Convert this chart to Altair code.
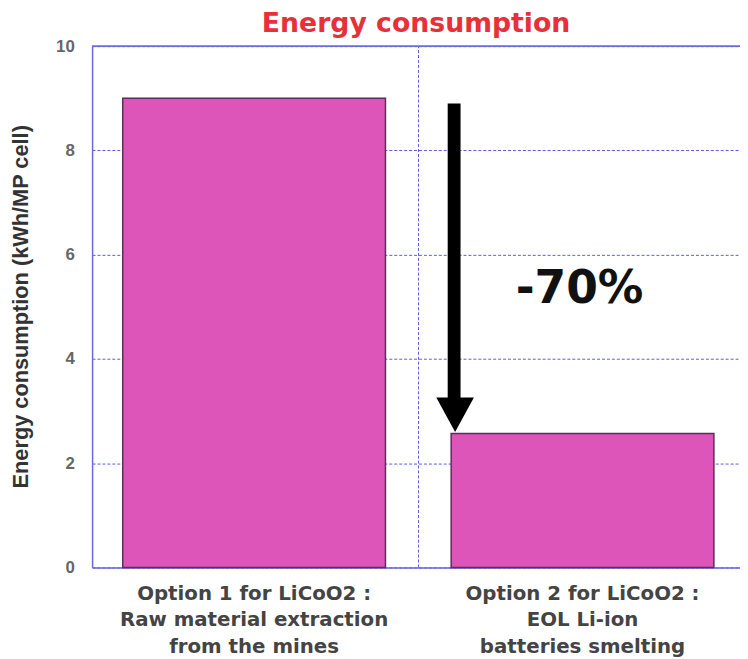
import altair as alt
import pandas as pd

categories = [
    "Option 1 for LiCoO2 :|Raw material extraction|from the mines",
    "Option 2 for LiCoO2 :|EOL Li-ion|batteries smelting",
]
energy = [9.0, 2.57]

arrow_top = [8.9]
arrow_bottom = [3.2]
arrow_head = [2.93]
reduction_label = ["-70%"]
reduction_pos = [5.33]

bars_df = pd.DataFrame({"cat": categories, "value": energy})
arrow_df = pd.DataFrame({"cat": [categories[1]], "y1": arrow_top, "y2": arrow_bottom})
head_df = pd.DataFrame({"cat": [categories[1]], "y": arrow_head})
text_df = pd.DataFrame({"cat": [categories[1]], "y": reduction_pos, "label": reduction_label})
divider_df = pd.DataFrame({"cat": [categories[1]]})

BLUE = "#6a6ae0"
GRID = "#5a5ae6"

xscale = alt.Scale(domain=categories, paddingInner=0.2, paddingOuter=0.0864, align=0.54)
yscale = alt.Scale(domain=[0, 10], nice=False)

x_axis = alt.Axis(
    title=None,
    labelAngle=0,
    labelAlign="center",
    labelBaseline="top",
    labelExpr="split(datum.label, '|')",
    labelFont="DejaVu Sans",
    labelFontWeight="bold",
    labelFontSize=20,
    labelColor="#444444",
    labelLineHeight=27,
    labelPadding=16,
    labelLimit=0,
    ticks=False,
    domainColor=BLUE,
    domainWidth=1.5,
    grid=False,
)

y_axis = alt.Axis(
    title="Energy consumption (kWh/MP cell)",
    values=[0, 2, 4, 6, 8, 10],
    labelFont="Liberation Sans",
    labelFontWeight="bold",
    labelFontSize=17,
    labelColor="#666666",
    labelPadding=18,
    ticks=False,
    domainColor=BLUE,
    domainWidth=1.5,
    grid=True,
    gridColor=GRID,
    gridDash=[3, 2],
    gridWidth=1,
    titleFont="Liberation Sans",
    titleFontWeight="bold",
    titleFontSize=22,
    titleColor="#333333",
    titleAngle=270,
    titleAlign="center",
    titleBaseline="middle",
    titleX=-72,
    titleY=263,
)

bars = alt.Chart(bars_df).mark_bar(
    color="#DD55B8", stroke="#5a2d5a", strokeWidth=1.5
).encode(
    x=alt.X("cat:N", scale=xscale, axis=x_axis, sort=categories),
    y=alt.Y("value:Q", scale=yscale, axis=y_axis),
)

divider = alt.Chart(divider_df).mark_rule(
    color=GRID, strokeDash=[3, 2], strokeWidth=1, xOffset=-33
).encode(
    x=alt.X("cat:N", bandPosition=0, axis=x_axis),
    y=alt.datum(0),
    y2=alt.datum(10),
)

top_border = alt.Chart(bars_df).mark_rule(color=BLUE, strokeWidth=1.5).encode(
    y=alt.datum(10)
)

arrow = alt.Chart(arrow_df).mark_rule(color="black", strokeWidth=13, xOffset=3).encode(
    x=alt.X("cat:N", bandPosition=0, axis=x_axis),
    y="y1:Q",
    y2="y2:Q",
)

head = alt.Chart(head_df).mark_point(
    shape="M-1,-0.92L1,-0.92L0,0.92Z", size=1444, filled=True, color="black",
    opacity=1, xOffset=4,
).encode(
    x=alt.X("cat:N", bandPosition=0, axis=x_axis),
    y="y:Q",
)

text = alt.Chart(text_df).mark_text(
    font="DejaVu Sans", fontWeight="bold", fontSize=46, color="#111111",
    align="center", baseline="middle", dx=-3,
).encode(
    x=alt.X("cat:N", axis=x_axis),
    y="y:Q",
    text="label:N",
)

chart = alt.layer(bars, divider, top_border, arrow, head, text).properties(
    width=655,
    height=527,
    autosize=alt.AutoSizeParams(type="none"),
    padding={"left": 85, "top": 35, "right": 0, "bottom": 88},
    title=alt.TitleParams(
        text="Energy consumption",
        font="DejaVu Sans",
        fontWeight="bold",
        fontSize=27,
        color="#E8303A",
        anchor="middle",
        baseline="bottom",
        offset=4,
        dy=32,
    ),
).configure_view(stroke=None).configure(background="white")

chart.save("out.html", embed_options={"renderer": "svg", "actions": False})
